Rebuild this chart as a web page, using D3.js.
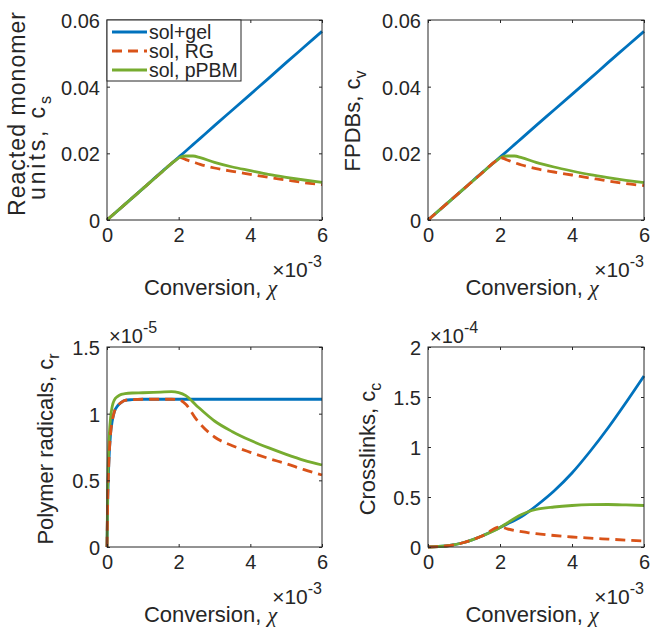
<!DOCTYPE html>
<html>
<head>
<meta charset="utf-8">
<script src="https://cdn.jsdelivr.net/npm/d3@7"></script>
<style>
  html, body { margin: 0; padding: 0; background: #fff; }
  svg { display: block; }
  text { font-family: "Liberation Sans", Arial, Helvetica, sans-serif; fill: #262626; }
</style>
</head>
<body>
<div id="chart"></div>
<script>
// ---------- DATA (conversion in units of 1e-3) ----------
const seriesNames = ["sol+gel", "sol, RG", "sol, pPBM"];
const xTickLabels = ["0", "2", "4", "6"];

// Panel 1: Reacted monomer units, c_s
const convCs = [0, 0.5, 1, 1.5, 1.9, 2.05, 2.2, 2.4, 2.6, 3, 3.5, 4, 4.5, 5, 5.5, 6];
const csSolGel = [0, 0.0047, 0.0094, 0.0142, 0.0179, 0.0193, 0.0207, 0.0226, 0.0245, 0.0283, 0.0330, 0.0377, 0.0424, 0.0472, 0.0519, 0.0566];
const csRG     = [0, 0.0047, 0.0094, 0.0141, 0.0178, 0.0187, 0.0181, 0.0174, 0.0167, 0.0156, 0.0146, 0.0137, 0.0128, 0.0120, 0.0112, 0.0106];
const csPPBM   = [0, 0.0047, 0.0094, 0.0141, 0.0178, 0.0189, 0.0192, 0.0192, 0.0187, 0.0173, 0.0159, 0.0148, 0.0137, 0.0128, 0.0120, 0.0113];
const csTicks  = [0, 0.02, 0.04, 0.06];
const csTickLabels = ["0", "0.02", "0.04", "0.06"];

// Panel 2: FPDBs, c_v
const convCv = [0, 0.5, 1, 1.5, 1.9, 2.05, 2.2, 2.4, 2.6, 3, 3.5, 4, 4.5, 5, 5.5, 6];
const cvSolGel = [0, 0.0047, 0.0094, 0.0142, 0.0179, 0.0193, 0.0207, 0.0226, 0.0245, 0.0283, 0.0330, 0.0377, 0.0424, 0.0472, 0.0519, 0.0566];
const cvRG     = [0, 0.0047, 0.0094, 0.0141, 0.0178, 0.0186, 0.0180, 0.0172, 0.0165, 0.0154, 0.0144, 0.0135, 0.0126, 0.0117, 0.0109, 0.0103];
const cvPPBM   = [0, 0.0047, 0.0094, 0.0141, 0.0178, 0.0189, 0.0192, 0.0192, 0.0187, 0.0173, 0.0159, 0.0147, 0.0136, 0.0127, 0.0119, 0.0112];
const cvTicks  = [0, 0.02, 0.04, 0.06];
const cvTickLabels = ["0", "0.02", "0.04", "0.06"];

// Panel 3: Polymer radicals, c_r (units of 1e-5)
const convCr = [0, 0.02, 0.05, 0.1, 0.15, 0.2, 0.3, 0.4, 0.5, 0.7, 1, 1.5, 1.8, 2, 2.2, 2.5, 3, 3.5, 4, 4.5, 5, 5.5, 6];
const crSolGel = [0, 0.35, 0.62, 0.85, 0.95, 1.01, 1.06, 1.085, 1.10, 1.105, 1.108, 1.108, 1.108, 1.108, 1.108, 1.108, 1.108, 1.108, 1.108, 1.108, 1.108, 1.108, 1.108];
const crRG     = [0, 0.35, 0.62, 0.85, 0.95, 1.01, 1.06, 1.085, 1.10, 1.105, 1.108, 1.108, 1.108, 1.105, 1.07, 0.955, 0.825, 0.76, 0.71, 0.665, 0.625, 0.58, 0.54];
const crPPBM   = [0, 0.45, 0.75, 0.97, 1.06, 1.10, 1.13, 1.145, 1.15, 1.155, 1.157, 1.162, 1.165, 1.158, 1.135, 1.06, 0.945, 0.865, 0.80, 0.745, 0.695, 0.65, 0.615];
const crTicks  = [0, 0.5, 1, 1.5];
const crTickLabels = ["0", "0.5", "1", "1.5"];

// Panel 4: Crosslinks, c_c (units of 1e-4)
const convCc = [0, 0.5, 1, 1.5, 2, 2.2, 2.4, 2.6, 2.8, 3, 3.5, 4, 4.5, 5, 5.5, 6];
const ccSolGel = [0, 0.01, 0.045, 0.11, 0.195, 0.23, 0.265, 0.305, 0.355, 0.41, 0.56, 0.74, 0.955, 1.19, 1.445, 1.71];
const ccRG     = [0, 0.01, 0.045, 0.11, 0.2, 0.182, 0.166, 0.153, 0.142, 0.133, 0.115, 0.10, 0.089, 0.079, 0.069, 0.06];
const ccPPBM   = [0, 0.01, 0.045, 0.11, 0.195, 0.24, 0.285, 0.325, 0.355, 0.375, 0.40, 0.415, 0.423, 0.425, 0.421, 0.415];
const ccTicks  = [0, 0.5, 1, 1.5, 2];
const ccTickLabels = ["0", "0.5", "1", "1.5", "2"];

// ---------- STYLE / LAYOUT ----------
const colors = ["#0072BD", "#D95319", "#77AC30"];
const dashes = [null, "10,6", null];
const W = 651, H = 628;
const axisColor = "#262626";

const panels = [
  { left: 107, top: 20, w: 215, h: 200, x: convCs, ys: [csSolGel, csRG, csPPBM], yMax: 0.06,
    yTicks: csTicks, yTickLabels: csTickLabels, order: [0, 1, 2], legend: true,
    ylabel: [["Reacted monomer", null], ["units, c", "s"]], ylabelX: [25, 45], ylabelY: [114, 148],
    ylabelSize: 23, ylabelLen: [204, 104], yExp: null },
  { left: 428, top: 20, w: 216, h: 200, x: convCv, ys: [cvSolGel, cvRG, cvPPBM], yMax: 0.06,
    yTicks: cvTicks, yTickLabels: cvTickLabels, order: [0, 2, 1],
    ylabel: [["FPDBs, c", "v"]], ylabelX: [360], ylabelY: [121], ylabelSize: 22, yExp: null },
  { left: 107, top: 347, w: 215, h: 200, x: convCr, ys: [crSolGel, crRG, crPPBM], yMax: 1.5,
    yTicks: crTicks, yTickLabels: crTickLabels, order: [0, 2, 1],
    ylabel: [["Polymer radicals, c", "r"]], ylabelX: [53], ylabelY: [449], ylabelSize: 22, yExp: "-5" },
  { left: 428, top: 347, w: 216, h: 200, x: convCc, ys: [ccSolGel, ccRG, ccPPBM], yMax: 2,
    yTicks: ccTicks, yTickLabels: ccTickLabels, order: [0, 2, 1],
    ylabel: [["Crosslinks, c", "c"]], ylabelX: [375], ylabelY: [449], ylabelSize: 22, yExp: "-4" }
];

const svg = d3.select("#chart").append("svg")
  .attr("width", W).attr("height", H)
  .attr("viewBox", `0 0 ${W} ${H}`);
svg.append("rect").attr("width", W).attr("height", H).attr("fill", "#fff");

const xTicks = xTickLabels.map(Number);

panels.forEach((p, pi) => {
  const g = svg.append("g");
  const xs = d3.scaleLinear().domain([0, 6]).range([p.left, p.left + p.w]);
  const ys = d3.scaleLinear().domain([0, p.yMax]).range([p.top + p.h, p.top]);

  const clipId = "clip" + pi;
  svg.append("clipPath").attr("id", clipId).append("rect")
    .attr("x", p.left - 2).attr("y", p.top - 2).attr("width", p.w + 4).attr("height", p.h + 4);

  // lines
  const line = d3.line().x((d) => xs(d[0])).y((d) => ys(d[1])).curve(d3.curveMonotoneX);
  const lg = g.append("g").attr("clip-path", `url(#${clipId})`);
  p.order.forEach((si) => {
    const pts = p.x.map((v, i) => [v, p.ys[si][i]]);
    lg.append("path").attr("d", line(pts))
      .attr("fill", "none").attr("stroke", colors[si]).attr("stroke-width", 2.8)
      .attr("stroke-dasharray", dashes[si]).attr("stroke-linejoin", "round");
  });

  // box
  g.append("rect").attr("x", p.left).attr("y", p.top).attr("width", p.w).attr("height", p.h)
    .attr("fill", "none").attr("stroke", axisColor).attr("stroke-width", 1);

  // axes via d3 axis generators (inward ticks)
  const xAxisB = d3.axisBottom(xs).tickValues(xTicks).tickSize(-3).tickFormat((d, i) => xTickLabels[i]).tickPadding(8);
  const gx = g.append("g").attr("transform", `translate(0,${p.top + p.h})`).call(xAxisB);
  const xAxisT = d3.axisTop(xs).tickValues(xTicks).tickSize(-3).tickFormat("");
  const gxt = g.append("g").attr("transform", `translate(0,${p.top})`).call(xAxisT);
  const yAxisL = d3.axisLeft(ys).tickValues(p.yTicks).tickSize(-3).tickFormat((d, i) => p.yTickLabels[i]).tickPadding(7);
  const gy = g.append("g").attr("transform", `translate(${p.left},0)`).call(yAxisL);
  const yAxisR = d3.axisRight(ys).tickValues(p.yTicks).tickSize(-3).tickFormat("");
  const gyr = g.append("g").attr("transform", `translate(${p.left + p.w},0)`).call(yAxisR);
  [gx, gxt, gy, gyr].forEach((a) => {
    a.select(".domain").remove();
    a.selectAll("line").attr("stroke", axisColor);
    a.selectAll("text").attr("font-size", 20).attr("fill", axisColor)
      .attr("font-family", "'Liberation Sans', Arial, sans-serif");
  });
  gy.selectAll("text").attr("dy", "0.38em");

  // x exponent
  const xe = g.append("text").attr("x", p.left + p.w).attr("y", p.top + p.h + 57)
    .attr("text-anchor", "end").attr("font-size", 21);
  xe.append("tspan").text("×10");
  xe.append("tspan").attr("font-size", 16).attr("dy", -10).text("-3");

  // x label
  const xl = g.append("text").attr("x", p.left + p.w / 2 - 4).attr("y", p.top + p.h + 75)
    .attr("text-anchor", "middle").attr("font-size", 22);
  xl.append("tspan").text("Conversion, ");
  xl.append("tspan").attr("font-family", "'Liberation Serif', 'DejaVu Serif', serif")
    .attr("font-style", "italic").text("χ");

  // y exponent
  if (p.yExp) {
    const ye = g.append("text").attr("x", p.left + 2).attr("y", p.top - 4)
      .attr("font-size", 20);
    ye.append("tspan").text("×10");
    ye.append("tspan").attr("font-size", 16).attr("dy", -10).text(p.yExp);
  }

  // y label
  p.ylabel.forEach((ln, li) => {
    const t = g.append("text")
      .attr("transform", `translate(${p.ylabelX[li]},${p.ylabelY[li]}) rotate(-90)`)
      .attr("text-anchor", "middle").attr("font-size", p.ylabelSize);
    if (p.ylabelLen) t.attr("textLength", p.ylabelLen[li]).attr("lengthAdjust", "spacing");
    t.append("tspan").text(ln[0]);
    if (ln[1]) t.append("tspan").attr("font-size", 16).attr("dy", 6).text(ln[1]);
  });

  // legend
  if (p.legend) {
    const lgx = p.left, lgy = p.top;
    const leg = g.append("g");
    leg.append("rect").attr("x", lgx).attr("y", lgy).attr("width", 134).attr("height", 61)
      .attr("fill", "#fff").attr("stroke", axisColor).attr("stroke-width", 1);
    seriesNames.forEach((name, i) => {
      const yy = lgy + 12 + i * 19;
      leg.append("line").attr("x1", lgx + 5).attr("x2", lgx + 40).attr("y1", yy).attr("y2", yy)
        .attr("stroke", colors[i]).attr("stroke-width", 2.8).attr("stroke-dasharray", dashes[i]);
      leg.append("text").attr("x", lgx + 42).attr("y", yy + 7).attr("font-size", 19.5).text(name);
    });
  }
});
</script>
</body>
</html>
